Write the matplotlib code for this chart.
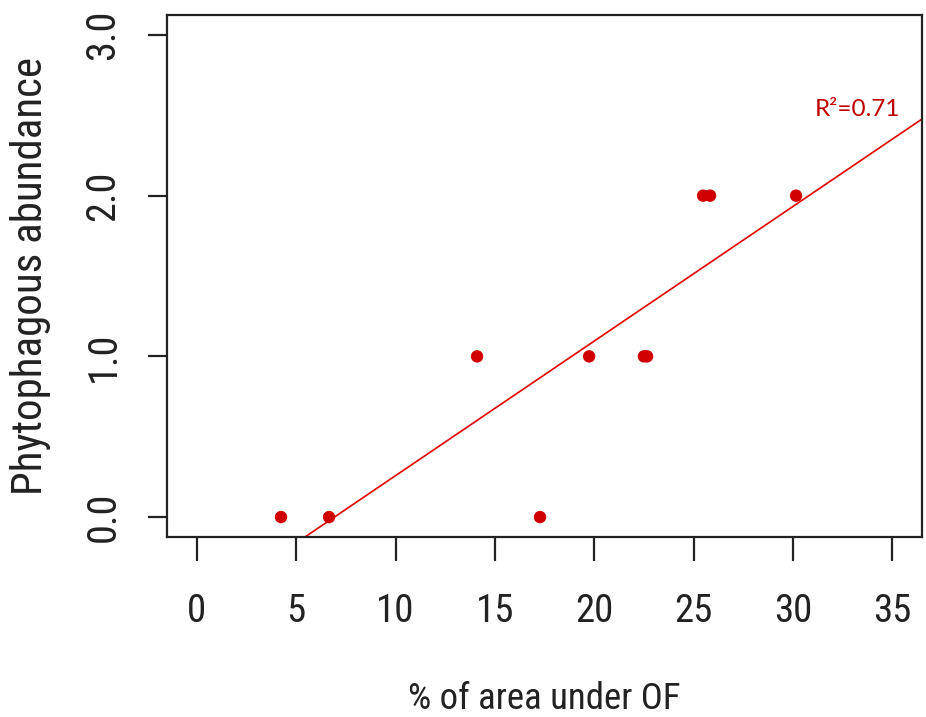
import numpy as np
import matplotlib
matplotlib.use("Agg")
import matplotlib.pyplot as plt
from matplotlib import font_manager
from matplotlib.font_manager import FontProperties

x_vals = [4.23, 6.65, 14.1, 17.27, 19.74, 22.5, 22.66, 25.48, 25.83, 30.16]
y_vals = [0, 0, 1, 0, 1, 1, 1, 2, 2, 2]
x_ticks = [0, 5, 10, 15, 20, 25, 30, 35]
y_ticks = [0.0, 1.0, 2.0, 3.0]
y_tick_labels = ["0.0", "1.0", "2.0", "3.0"]
r2_label = "R²=0.71"

# look for a narrow sans font; fall back to Liberation Sans
narrow_path = None
for pref in ["Liberation Sans Narrow", "Roboto Condensed", "Open Sans Condensed", "Noto Sans"]:
    for f in font_manager.fontManager.ttflist:
        if f.name == pref and f.weight in (400, "normal", "regular") and f.style == "normal":
            if pref in ("Liberation Sans Narrow", "Roboto Condensed", "Open Sans Condensed") or \
               "condensed" in str(f.stretch) or "Condensed" in f.fname:
                if "Extra" in f.fname or "Semi" in f.fname:
                    continue
                narrow_path = f.fname
                break
    if narrow_path:
        break

if narrow_path:
    def fp(size):
        return FontProperties(fname=narrow_path, size=size)
    xtick_size, ytick_size, xlabel_size, ylabel_size = 28, 29, 26.5, 31
else:
    def fp(size):
        return FontProperties(family="Liberation Sans", size=size)
    xtick_size, ytick_size, xlabel_size, ylabel_size = 25, 26, 21, 24

dark = "#222222"
fig = plt.figure(figsize=(9.26, 7.17), dpi=100)
ax = fig.add_axes([167/926, 1-537/717, 755/926, 522/717])

ax.scatter(x_vals, y_vals, s=80, c="#D00000", marker="o", edgecolors="none", zorder=3)

slope, intercept = np.polyfit(x_vals, y_vals, 1)
xl = np.array([-5, 40])
ax.plot(xl, slope*xl + intercept, color="#E00000", lw=1.2, zorder=2)

ax.set_xlim(-1.51, 36.5)
ax.set_ylim(-0.124, 3.124)
ax.set_xticks(x_ticks)
ax.set_yticks(y_ticks)
ax.set_yticklabels(y_tick_labels, rotation=90, va="center")

for s in ax.spines.values():
    s.set_linewidth(1.6)
    s.set_color(dark)

ax.tick_params(axis="x", length=17, width=1.6, pad=23, color=dark)
ax.tick_params(axis="y", length=14, width=1.6, pad=18, color=dark)
for lab in ax.get_xticklabels():
    lab.set_fontproperties(fp(xtick_size))
    lab.set_color(dark)
for lab in ax.get_yticklabels():
    lab.set_fontproperties(fp(ytick_size))
    lab.set_color(dark)

ax.set_xlabel("% of area under OF", fontproperties=fp(xlabel_size), color=dark)
ax.set_ylabel("Phytophagous abundance", fontproperties=fp(ylabel_size), color=dark)
ax.xaxis.set_label_coords(0.5, -0.276)
ax.yaxis.set_label_coords(-0.153, 0.5)

ax.text(31.1, 2.496, r2_label, color="#C00000", fontsize=17.5, family="Lato",
        ha="left", va="baseline")

fig.savefig("out.png", dpi=100)
